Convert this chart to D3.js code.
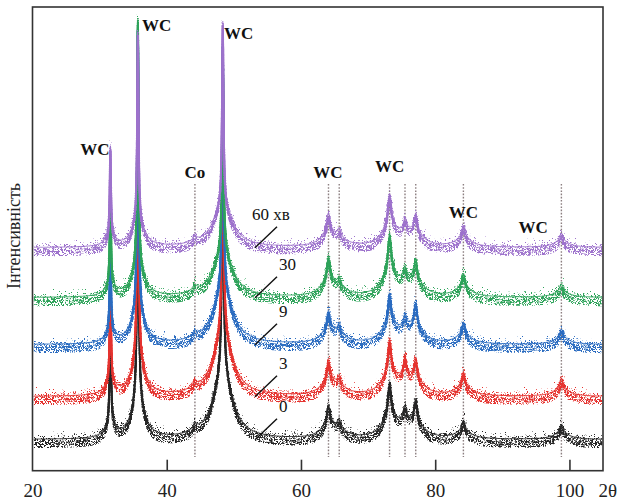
<!DOCTYPE html>
<html><head><meta charset="utf-8">
<script src="https://cdn.jsdelivr.net/npm/d3@7"></script>
<style>body{margin:0;background:#fff}svg{display:block}</style>
</head><body>
<svg id="chart" width="618" height="503"></svg>
<script>
// ---- data ----
const peakPos     = [31.6, 35.7, 44.2, 48.35, 64.1, 65.7, 73.2, 75.5, 77.1, 84.2, 98.8];
const peakCore    = [0.11, 0.12, 0.30, 0.13, 0.30, 0.28, 0.30, 0.28, 0.28, 0.32, 0.34];
const peakTail    = [0.8,  1.0,  1.0,  1.6,  1.3,  1.3,  1.3,  1.3,  1.3,  1.4,  1.4];
const peakShare   = [0.12, 0.13, 0.3,  0.2,  0.4,  0.4,  0.4,  0.4,  0.4,  0.4,  0.4];
const seriesNames = ["0", "3", "9", "30", "60 хв"];
const seriesOffset = [31, 74, 126, 173, 223];
const int0  = [135, 350, 7, 360, 31, 14, 53, 22, 34, 18, 15];
const int3  = [125, 340, 7, 340, 33, 14, 52, 28, 31, 23, 18];
const int9  = [110, 318, 6, 300, 30, 15, 47, 19, 36, 21, 15];
const int30 = [110, 278, 6, 250, 38, 13, 60, 19, 32, 23, 13];
const int60 = [100, 215, 6, 226, 31, 13, 50, 19, 28, 21, 14];
const seriesInt = [int0, int3, int9, int30, int60];
const seriesColor = ["#262626", "#e5332f", "#2b6cc0", "#2ea35a", "#9d72cc"];
const markerPos = [44.2, 64.1, 65.7, 73.2, 75.5, 77.1, 84.2, 98.8];
const phaseLabels = [
  {t: "WC", x: 29.3, y: 155}, {t: "WC", x: 38.5, y: 31}, {t: "WC", x: 50.7, y: 39},
  {t: "Co", x: 44.2, y: 178}, {t: "WC", x: 64.0, y: 178}, {t: "WC", x: 73.2, y: 172},
  {t: "WC", x: 84.2, y: 218}, {t: "WC", x: 94.6, y: 233}
];
const xTicks = [20, 40, 60, 80, 100];

// ---- layout ----
const W = 618, H = 503;
const L = 32.5, R = 603, T = 7, B = 470.7;
const svg = d3.select("#chart");
const x = d3.scaleLinear().domain([20, 105]).range([L, R]);
const y = d3.scaleLinear().domain([0, B - T]).range([B, T]);

const defs = svg.append("defs");
function noiseFilter(id, seed, freq, scale) {
  const f = defs.append("filter").attr("id", id).attr("filterUnits", "userSpaceOnUse")
    .attr("x", 0).attr("y", 0).attr("width", W).attr("height", H)
    .attr("color-interpolation-filters", "sRGB");
  f.append("feTurbulence").attr("type", "turbulence").attr("baseFrequency", freq)
    .attr("numOctaves", 1).attr("seed", seed).attr("result", "n");
  f.append("feColorMatrix").attr("in", "n").attr("type", "matrix")
    .attr("values", "0 0 0 0 0.5  0 2 0 0 -0.15  0 0 0 0 0  0 0 0 0 1").attr("result", "m");
  f.append("feDisplacementMap").attr("in", "SourceGraphic").attr("in2", "m")
    .attr("scale", scale).attr("xChannelSelector", "R").attr("yChannelSelector", "G");
}
noiseFilter("noisyA", 3, "0.9 0.45", 16);
noiseFilter("noisyB", 11, "0.7 0.6", 11);
noiseFilter("noisyC", 23, "1.1 0.5", 7);
defs.append("clipPath").attr("id", "plotclip").append("rect")
  .attr("x", L).attr("y", T).attr("width", R - L).attr("height", B - T);

// profile from the peak table
function profile(ints, t) {
  let s = 0;
  for (let i = 0; i < peakPos.length; i++) {
    const d = t - peakPos[i];
    s += ints[i] * ((1 - peakShare[i]) / (1 + (d / peakCore[i]) ** 2) +
                    peakShare[i] / (1 + (d / peakTail[i]) ** 2));
  }
  return s;
}
const grid = d3.range(20.2, 104.9, 0.025);
const line = d3.line().x(d => x(d[0])).y(d => y(d[1]));

// marker dotted lines
svg.append("g").selectAll("line").data(markerPos).join("line")
  .attr("x1", d => x(d)).attr("x2", d => x(d)).attr("y1", 184).attr("y2", 457)
  .attr("stroke", "#8c7f80").attr("stroke-width", 1.4).attr("stroke-dasharray", "1.6,1.6");

// traces
const tg = svg.append("g").attr("clip-path", "url(#plotclip)");
seriesInt.forEach((ints, k) => {
  const pts = grid.map(t => [t, seriesOffset[k] + profile(ints, t)]);
  const d = line(pts);
  const g = tg.append("g");
  [["noisyA", 2.0], ["noisyB", 2.0], ["noisyC", 1.8]].forEach(([fid, sw]) => {
    g.append("path").attr("d", d).attr("fill", "none")
      .attr("stroke", seriesColor[k]).attr("stroke-width", sw).attr("filter", `url(#${fid})`);
  });
  g.append("path").attr("d", d).attr("fill", "none")
    .attr("stroke", seriesColor[k]).attr("stroke-width", 1.1).attr("opacity", 0.8);
});

// frame
svg.append("rect").attr("x", L).attr("y", T).attr("width", R - L).attr("height", B - T)
  .attr("fill", "none").attr("stroke", "#333").attr("stroke-width", 1.6);

// x axis
const ax = svg.append("g").attr("transform", `translate(0,${B})`)
  .call(d3.axisBottom(x).tickValues(xTicks).tickSizeInner(-11).tickSizeOuter(0).tickPadding(13));
ax.select(".domain").remove();
ax.selectAll(".tick line").attr("stroke", "#333").attr("stroke-width", 1.6)
  .filter(d => d === 20).remove();
ax.selectAll("text").attr("font-family", "Liberation Serif, serif").attr("font-size", 19).attr("fill", "#222");
svg.append("text").attr("x", 617).attr("y", 497).attr("text-anchor", "end")
  .attr("font-family", "Liberation Serif, serif").attr("font-size", 19).attr("fill", "#222").text("2θ");

// y label
svg.append("text").attr("transform", "translate(20,236) rotate(-90)").attr("text-anchor", "middle")
  .attr("font-family", "Liberation Serif, serif").attr("font-size", 18).attr("fill", "#222").text("Інтенсивність");

// phase labels
svg.append("g").selectAll("text").data(phaseLabels).join("text")
  .attr("x", d => x(d.x)).attr("y", d => d.y).attr("text-anchor", "middle")
  .attr("font-family", "Liberation Serif, serif").attr("font-size", 17).attr("font-weight", "bold")
  .attr("fill", "#111").text(d => d.t);

// series labels with leaders
const lab = svg.append("g");
seriesNames.forEach((n, k) => {
  const base = y(seriesOffset[k]);
  lab.append("line").attr("x1", 255).attr("y1", base).attr("x2", 277).attr("y2", base - 21)
    .attr("stroke", "#111").attr("stroke-width", 1.4);
  lab.append("text").attr("x", n.length > 2 ? 252 : 279).attr("y", base - 28)
    .attr("font-family", "Liberation Serif, serif").attr("font-size", 17).attr("fill", "#111").text(n);
});
</script>
</body></html>
